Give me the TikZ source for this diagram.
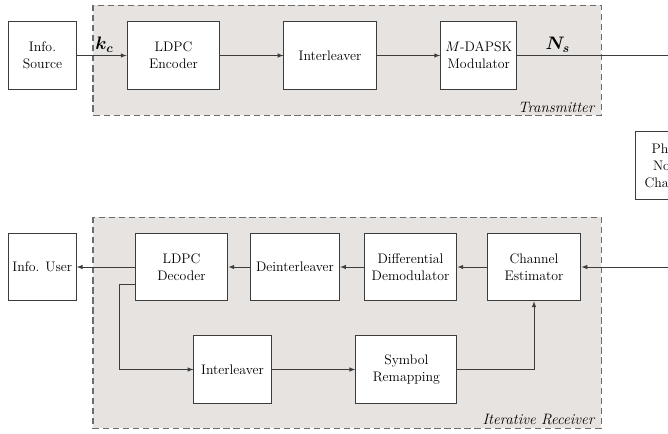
\documentclass[tikz,border=0pt]{standalone}
\usepackage{amsmath}
\usepackage{amssymb}
\usepackage{bm}
\usepackage[usenames,dvipsnames,svgnames,table]{xcolor}
\usetikzlibrary{positioning}

\definecolor{regionfill}{RGB}{231,227,224}
\definecolor{linegray}{RGB}{60,60,60}

\tikzset{
	block/.style={draw=linegray, thick, fill=white, align=center, minimum height=1.89cm, inner sep=1pt, font=\fontsize{11}{13.5}\selectfont},
	region/.style={draw=gray!85!black, thick, dashed, dash pattern=on 5pt off 3pt, fill=regionfill},
	conn/.style={draw=linegray, semithick},
}

\begin{document}
\begin{tikzpicture}[>=latex, x=0.028cm, y=-0.028cm]
	\clip (0,0) rectangle (668,433);
	\fill[white] (0,0) rectangle (668,433);

	% shaded regions
	\draw[region] (93,5) rectangle (601,115);
	\draw[region] (93,217) rectangle (601,428);
	\node[anchor=south east, inner sep=2pt, font=\large] at (598,115) {\textit{Transmitter}};
	\node[anchor=south east, inner sep=2pt, font=\large] at (598,428) {\textit{Iterative Receiver}};

	% transmitter
	\node[block, minimum width=1.93cm] (src) at (42.5,55.5) {Info.\\ Source};
	\node[block, minimum width=2.6cm] (enc) at (173.5,55.5) {LDPC\\ Encoder};
	\node[block, minimum width=2.58cm] (intl) at (330,55.5) {Interleaver};
	\node[block, minimum width=2.13cm] (mod) at (478.7,55.5) {$M$-DAPSK\\ Modulator};

	% channel
	\node[block, minimum width=1.85cm] (chan) at (669,165.5) {Phase\\ Noise\\ Channel};
	\coordinate (txout) at (720,55.5);
	\coordinate (rxin) at (720,267);

	% receiver
	\node[block, minimum width=1.9cm] (user) at (42.3,267) {Info. User};
	\node[block, minimum width=2.6cm] (dec) at (181.5,267) {LDPC\\ Decoder};
	\node[block, minimum width=2.5cm] (deint) at (295,267) {Deinterleaver};
	\node[block, minimum width=2.6cm] (demod) at (410.5,267) {Differential\\ Demodulator};
	\node[block, minimum width=2.63cm] (est) at (534,267) {Channel\\ Estimator};
	\node[block, minimum width=2.16cm] (intl2) at (232.5,369.5) {Interleaver};
	\node[block, minimum width=2.83cm] (remap) at (406.3,369.5) {Symbol\\ Remapping};

	% connectors
	\draw[conn,->] (src) -- node[above, pos=0.55, yshift=-1pt] {\Large$\bm{k_c}$} (enc);
	\draw[conn,->] (enc) -- (intl);
	\draw[conn,->] (intl) -- (mod);
	\draw[conn] (mod) -- node[above, pos=0.2, yshift=-1pt] {\Large$\bm{N_s}$} (txout);

	\draw[conn,->] (rxin) -- (est);
	\draw[conn,->] (est) -- (demod);
	\draw[conn,->] (demod) -- (deint);
	\draw[conn,->] (deint) -- (dec);
	\draw[conn,->] (dec) -- (user);
	\draw[conn,->] ([yshift=-0.48cm]dec.west) -| (119,369.5) -- (intl2);
	\draw[conn,->] (intl2) -- (remap);
	\draw[conn,->] (remap) -| (est);
\end{tikzpicture}
\end{document}
